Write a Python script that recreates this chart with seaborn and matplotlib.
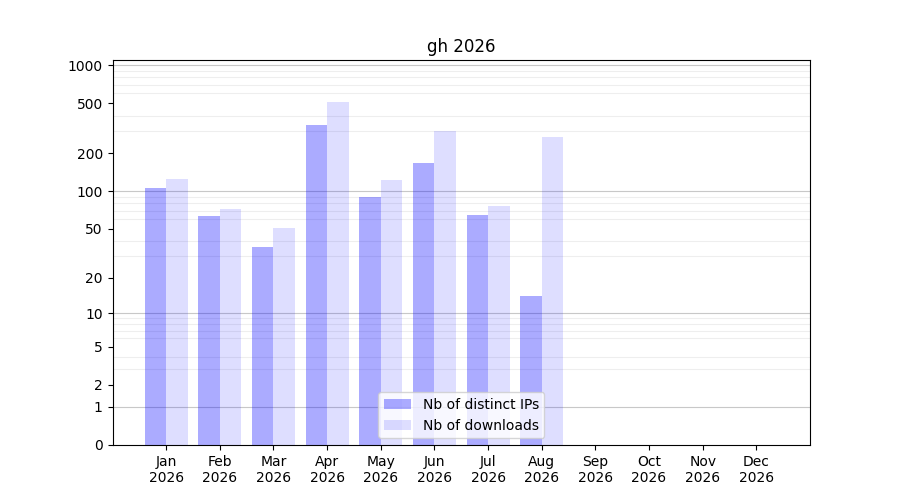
import numpy as np
import pandas as pd
import matplotlib
matplotlib.use("Agg")
import matplotlib.pyplot as plt
from matplotlib.ticker import FixedLocator, NullFormatter
import seaborn as sns

# valeurs
mois = ["Jan", "Feb", "Mar", "Apr", "May", "Jun", "Jul", "Aug", "Sep", "Oct", "Nov", "Dec"]
annee = "2026"
nb_ips = [106, 63, 36, 335, 90, 168, 65, 14, 0, 0, 0, 0]
nb_downloads = [126, 72, 51, 515, 123, 300, 76, 270, 0, 0, 0, 0]
series = ["Nb of distinct IPs", "Nb of downloads"]
yticks = [0, 1, 2, 5, 10, 20, 50, 100, 200, 500, 1000]

labels_x = [f"{m}\n{annee}" for m in mois]
df = pd.DataFrame({
    "mois": labels_x * 2,
    "valeur": nb_ips + nb_downloads,
    "serie": [series[0]] * len(mois) + [series[1]] * len(mois),
})

fig, ax = plt.subplots(figsize=(9, 5), dpi=100)

# echelle log(1+x)
ax.set_yscale("function", functions=(lambda v: np.log10(1 + np.clip(v, 0, None)),
                                     lambda v: 10 ** v - 1))

sns.barplot(data=df, x="mois", y="valeur", hue="serie", order=labels_x,
            hue_order=series, palette=["blue", "blue"], ax=ax, legend=False)

alphas = [0.33, 0.13]
for cont, a in zip(ax.containers, alphas):
    for p in cont.patches:
        p.set_facecolor((0, 0, 1, a))
        p.set_edgecolor("none")
        p.set_zorder(2)

ax.set_ylim(0, 1100)
ax.set_xlim(-1, 12)

ax.yaxis.set_major_locator(FixedLocator(yticks))
ax.set_yticklabels([str(t) for t in yticks])
minor = [k * 10 ** n for n in range(0, 4) for k in range(2, 10)]
ax.yaxis.set_minor_locator(FixedLocator(minor))
ax.yaxis.set_minor_formatter(NullFormatter())
ax.tick_params(axis="y", which="minor", length=0)

ax.set_axisbelow(True)
ax.grid(True, axis="y", which="minor", color="#eeeeee", linewidth=0.8, zorder=0.5)
for d in [1, 10, 100, 1000]:
    ax.axhline(d, color="#c8c8c8", linewidth=0.8, zorder=0.6)

ax.set_xlabel("")
ax.set_ylabel("")
ax.set_title("gh 2026")

ax.legend(ax.containers, series, loc="lower center")

plt.savefig("out.png")
